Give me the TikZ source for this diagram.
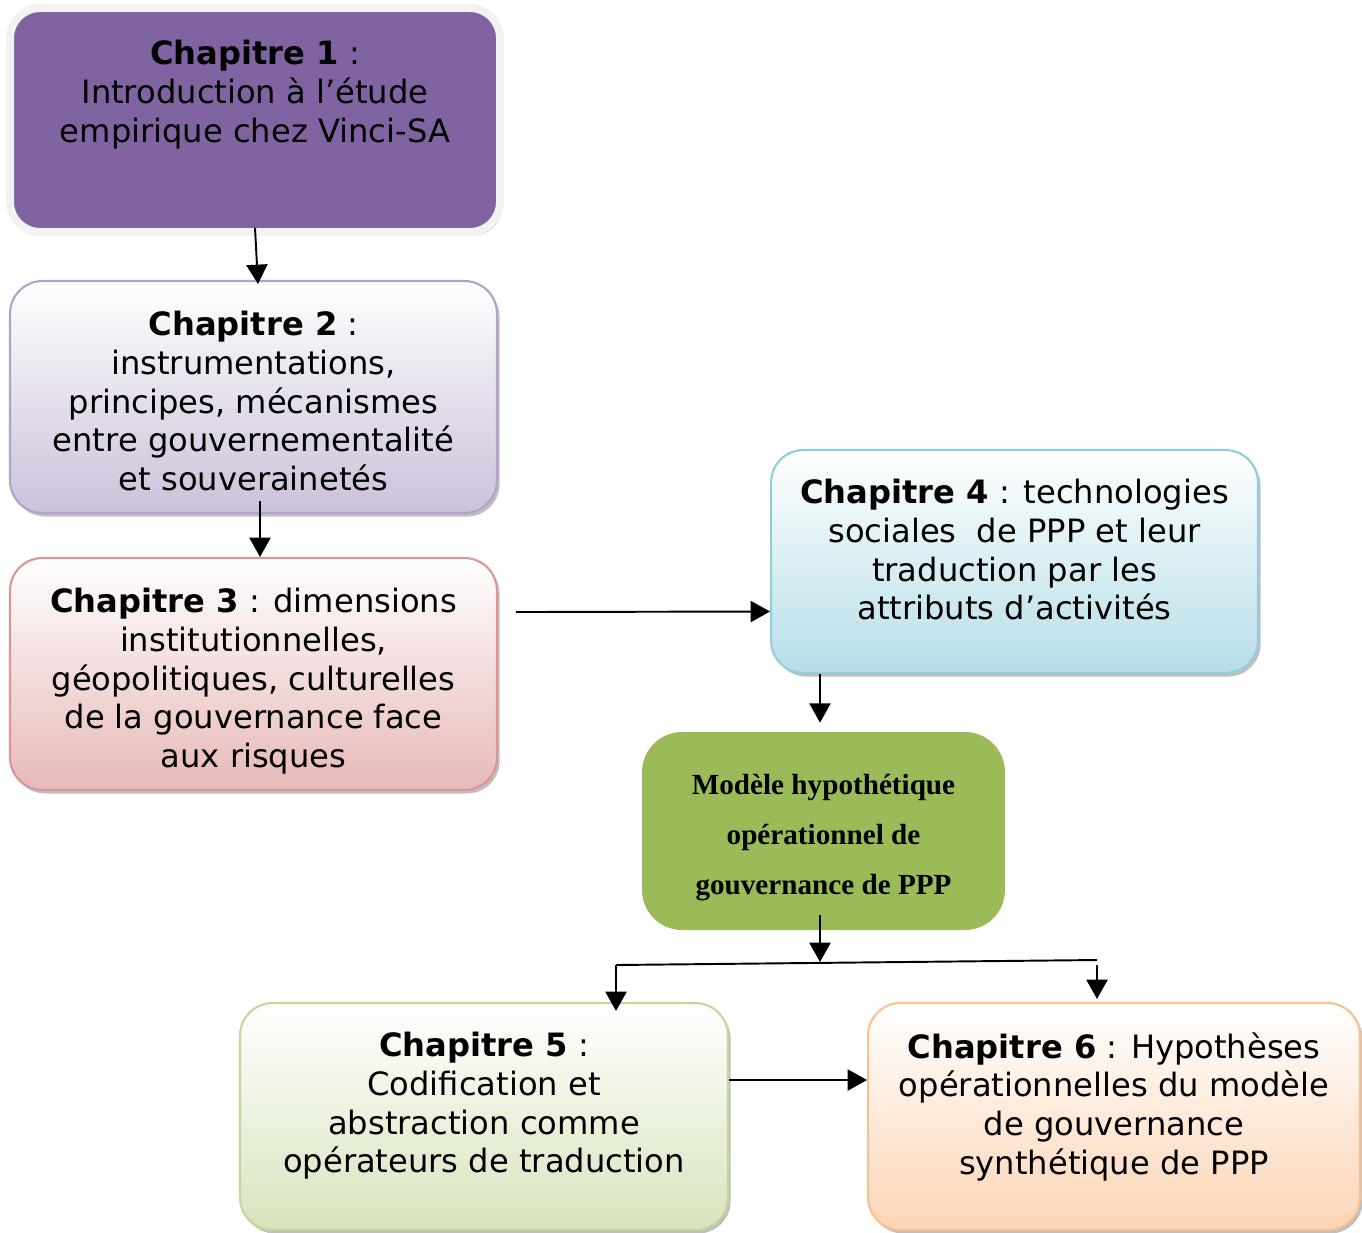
\documentclass[tikz,border=0pt]{standalone}
\usepackage{fontspec}
\setmainfont{DejaVu Sans}
\newfontfamily\modfont{Liberation Serif}
\usepackage{tikz}
\usetikzlibrary{arrows.meta,shadows}

\definecolor{chapviolet}{HTML}{8064A2}
\definecolor{lilasline}{HTML}{B3A2C7}
\definecolor{lilas}{HTML}{CCC1DA}
\definecolor{roseline}{HTML}{D99694}
\definecolor{rose}{HTML}{E6B9B8}
\definecolor{bleuline}{HTML}{93CDDD}
\definecolor{bleu}{HTML}{B7DEE8}
\definecolor{modvert}{HTML}{9BBB59}
\definecolor{vertline}{HTML}{C3D69B}
\definecolor{vert}{HTML}{D7E4BD}
\definecolor{orangeline}{HTML}{FAC090}
\definecolor{orange}{HTML}{FCD5B5}

\begin{document}
\begin{tikzpicture}
            [x=0.02cm, y=-0.02cm, >={Triangle[width=12pt,length=11pt]},
             chap/.style={rectangle, rounded corners=0.65cm, line width=1.2pt, minimum width=9.74cm, minimum height=4.64cm,
                          drop shadow={shadow xshift=1.5pt, shadow yshift=-2pt, opacity=0.5, fill=gray}},
             txt/.style={anchor=north, inner sep=0pt, align=center, font=\fontsize{18.3}{22}\selectfont},
             arr/.style={->, line width=1.1pt}]
            \useasboundingbox (0,0) rectangle (1362,1232);
            % boites des chapitres
            \node[chap, fill=chapviolet, draw=gray!10, line width=4.5pt, rounded corners=0.6cm, minimum width=9.8cm, minimum height=4.48cm] (c1) at (255,120) {};
            \node[chap, draw=lilasline, top color=white, bottom color=lilas] (c2) at (253.5,397) {};
            \node[chap, draw=roseline, top color=white, bottom color=rose] (c3) at (253.5,674) {};
            \node[chap, draw=bleuline, top color=white, bottom color=bleu, minimum height=4.46cm] (c4) at (1014.5,561.5) {};
            \node[rectangle, rounded corners=0.8cm, fill=modvert, minimum width=7.26cm, minimum height=3.96cm] (mod) at (823.5,831) {};
            \node[chap, draw=vertline, top color=white, bottom color=vert, minimum width=9.76cm, minimum height=4.54cm] (c5) at (484,1116.5) {};
            \node[chap, draw=orangeline, top color=white, bottom color=orange, minimum width=9.84cm, minimum height=4.54cm] (c6) at (1114,1116.5) {};
            % textes
            \node[txt] (t1) at (255,40) {\textbf{Chapitre 1} :\\Introduction à l’étude\\empirique chez Vinci-SA};
            \node[txt] (t2) at (253.5,311) {\textbf{Chapitre 2} :\\instrumentations,\\principes, mécanismes\\entre gouvernementalité\\et souverainetés};
            \node[txt] (t3) at (253.5,588) {\textbf{Chapitre 3} : dimensions\\institutionnelles,\\géopolitiques, culturelles\\de la gouvernance face\\aux risques};
            \node[txt] (t4) at (1014.5,479) {\textbf{Chapitre 4} : technologies\\sociales\ \ de PPP et leur\\traduction par les\\attributs d’activités};
            \node[txt, font=\modfont\bfseries\fontsize{16.6}{28.5}\selectfont] (tm) at (823.5,774) {Modèle hypothétique\\opérationnel de\\gouvernance de PPP};
            \node[txt] (t5) at (484,1032) {\textbf{Chapitre 5} :\\Codification et\\abstraction comme\\opérateurs de traduction};
            \node[txt] (t6) at (1114,1032) {\textbf{Chapitre 6} : Hypothèses\\opérationnelles du modèle\\de gouvernance\\synthétique de PPP};
            % embranchement
            \coordinate (split) at (820,962);
            \coordinate (sl) at (616,965);
            \coordinate (sr) at (1097,960);
            % fleches
            \draw[arr] ([yshift=0.16cm]c1.south) -- ([xshift=0.09cm,yshift=-0.08cm]c2.north);
            \draw[arr] ([xshift=0.13cm,yshift=0.26cm]c2.south) -- ([xshift=0.13cm]c3.north);
            \draw[arr] ([xshift=0.36cm,yshift=1.24cm]c3.east) -- ([yshift=-1cm]c4.west);
            \draw[arr] (split |- c4.south) -- ([yshift=0.18cm]split |- mod.north);
            \draw[arr] ([yshift=0.3cm]split |- mod.south) -- (split);
            \draw[line width=1.1pt] (sl) -- (sr);
            \draw[arr] (sl) -- ([yshift=-0.18cm]sl |- c5.north);
            \draw[arr] ([yshift=-0.1cm]sr) -- ([yshift=0.06cm]sr |- c6.north);
            \draw[arr] ([yshift=0.73cm]c5.east) -- ([yshift=0.73cm]c6.west);
\end{tikzpicture}
\end{document}
